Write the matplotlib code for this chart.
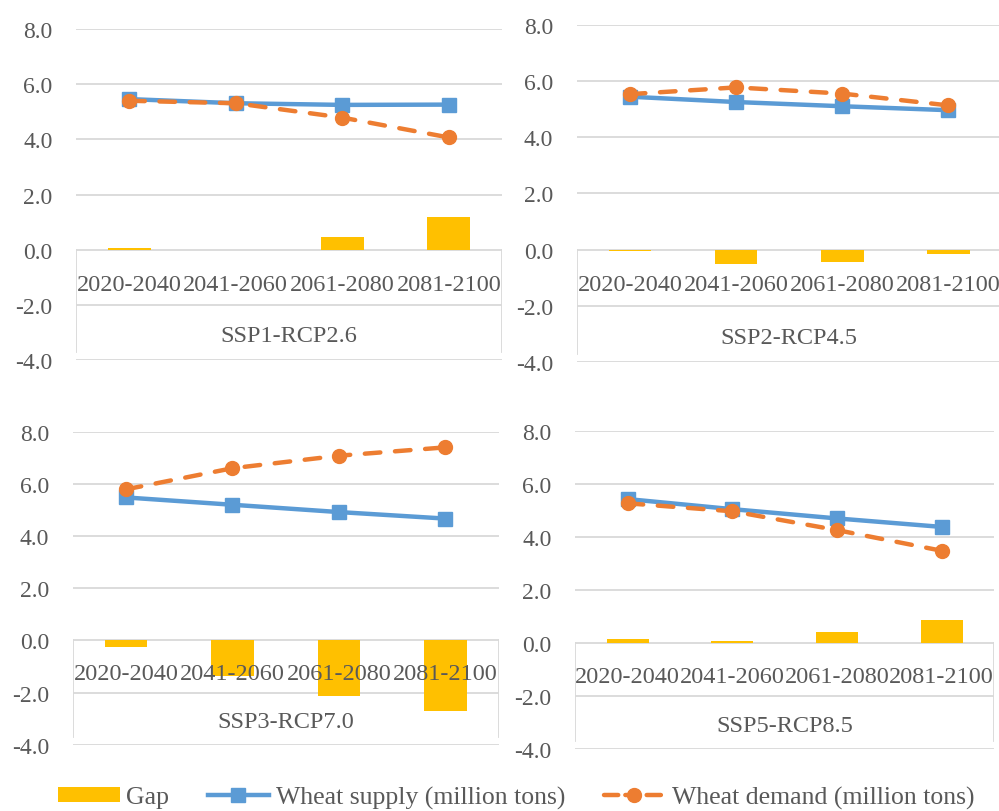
import matplotlib
matplotlib.use('Agg')
from matplotlib import pyplot as plt
from matplotlib.patches import Patch
from matplotlib.lines import Line2D
import numpy as np

periods = ['2020-2040', '2041-2060', '2061-2080', '2081-2100']
scenarios = ['SSP1-RCP2.6', 'SSP2-RCP4.5', 'SSP3-RCP7.0', 'SSP5-RCP8.5']

supply_ssp1 = [5.46, 5.31, 5.25, 5.26]
demand_ssp1 = [5.40, 5.31, 4.79, 4.07]
gap_ssp1 = [0.05, 0.0, 0.46, 1.17]

supply_ssp2 = [5.44, 5.25, 5.10, 4.96]
demand_ssp2 = [5.53, 5.77, 5.55, 5.13]
gap_ssp2 = [-0.05, -0.52, -0.44, -0.14]

supply_ssp3 = [5.48, 5.20, 4.92, 4.67]
demand_ssp3 = [5.79, 6.60, 7.08, 7.40]
gap_ssp3 = [-0.24, -1.36, -2.12, -2.70]

supply_ssp5 = [5.43, 5.05, 4.70, 4.38]
demand_ssp5 = [5.27, 4.97, 4.26, 3.48]
gap_ssp5 = [0.14, 0.09, 0.43, 0.86]

yticks = [-4, -2, 0, 2, 4, 6, 8]

BLUE = '#5B9BD5'
ORANGE = '#ED7D31'
GOLD = '#FFC000'
GRID = '#D9D9D9'
TXT = '#595959'
FONT = 'Liberation Serif'

plt.rcParams['font.family'] = [FONT, 'DejaVu Serif']

fig = plt.figure(figsize=(9.99, 8.12), dpi=100)

# axes rectangles in figure fractions (left, bottom, width, height)
rects = [
    (0.0761, 0.5554, 0.4264, 0.4076),
    (0.5773, 0.5526, 0.4253, 0.4158),
    (0.0728, 0.0816, 0.4262, 0.3855),
    (0.5759, 0.0764, 0.4191, 0.3916),
]

panels = [
    (supply_ssp1, demand_ssp1, gap_ssp1),
    (supply_ssp2, demand_ssp2, gap_ssp2),
    (supply_ssp3, demand_ssp3, gap_ssp3),
    (supply_ssp5, demand_ssp5, gap_ssp5),
]

x = np.arange(len(periods))
box_bottom = -3.7

for i, (rect, (sup, dem, gap)) in enumerate(zip(rects, panels)):
    ax = fig.add_axes(rect)
    ax.set_xlim(-0.5, 3.5)
    ax.set_ylim(-4, 8)
    ax.set_axisbelow(True)
    ax.yaxis.grid(True, color=GRID, lw=1.3)
    for s in ax.spines.values():
        s.set_visible(False)
    ax.set_yticks(yticks)
    ax.set_yticklabels([f'{v:.1f}' for v in yticks])
    ax.tick_params(axis='y', length=0, pad=17, labelsize=17, labelcolor=TXT)
    ax.set_xticks([])

    ax.bar(x, gap, width=0.4, color=GOLD, zorder=2)
    ax.plot(x, sup, color=BLUE, lw=3.2, marker='s', ms=10, zorder=3)
    ax.plot(x, dem, color=ORANGE, lw=3.2, marker='o', ms=10,
            dashes=(3.5, 3.3), dash_capstyle='round', zorder=4)

    # category box of the multi-level axis
    yb0 = (box_bottom + 4) / 12
    yb1 = 4 / 12
    ax.axvline(-0.5, ymin=yb0, ymax=yb1, color=GRID, lw=1.3, zorder=1)
    ax.axvline(3.5, ymin=yb0, ymax=yb1, color=GRID, lw=1.3, zorder=1)

    for xi, p in zip(x, periods):
        ax.text(xi, -1.25, p, ha='center', va='center', fontsize=17.5,
                color=TXT, zorder=6)
    ax.text(1.5, -3.12, scenarios[i], ha='center', va='center',
            fontsize=17.5, color=TXT, zorder=6)

handles = [
    Patch(facecolor=GOLD, edgecolor='none'),
    Line2D([], [], color=BLUE, lw=3.2, marker='s', ms=10),
    Line2D([], [], color=ORANGE, lw=3.2, marker='o', ms=10,
           dashes=(3.2, 1.6), dash_capstyle='round'),
]
labels = ['Gap', 'Wheat supply (million tons)', 'Wheat demand (million tons)']
leg = fig.legend(handles, labels, loc='center', bbox_to_anchor=(0.5165, 0.017),
                 ncol=3, frameon=False, fontsize=18.5, handlelength=2.4,
                 handleheight=0.5, handletextpad=0.25, columnspacing=1.5,
                 labelcolor=TXT)

fig.savefig('out.png', dpi=100)
